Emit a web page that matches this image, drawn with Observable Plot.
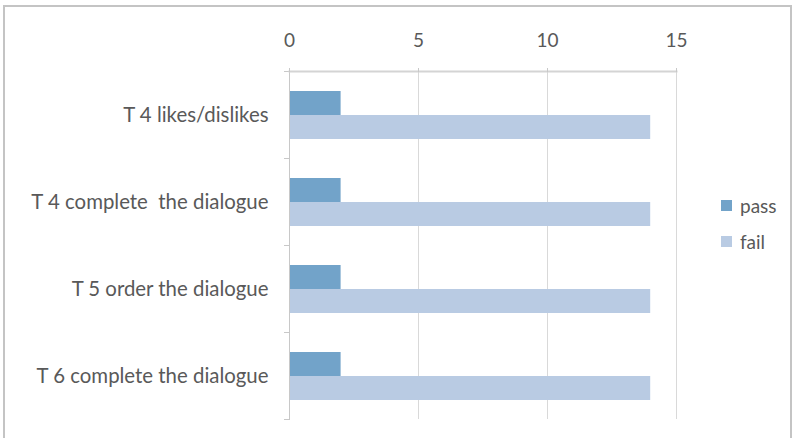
<!DOCTYPE html>
<html>
<head>
<meta charset="utf-8">
<script src="https://cdn.jsdelivr.net/npm/d3@7"></script>
<script src="https://cdn.jsdelivr.net/npm/@observablehq/plot@0.6"></script>
<style>
  html, body { margin: 0; padding: 0; background: #fff; }
  #wrap { position: relative; width: 796px; height: 438px; overflow: hidden; font-family: Lato, "Open Sans", sans-serif; }
  #border { position: absolute; left: 3px; top: 5px; width: 789px; height: 450px; border: 2px solid #c4c4c4; box-sizing: border-box; }
  #chart { position: absolute; left: 0; top: 0; }
  #chart svg text { white-space: pre; }
  #legend { position: absolute; left: 721px; top: 194px; color: #595959; font-size: 19px; }
  .item { display: flex; align-items: center; height: 22px; margin-bottom: 14.5px; }
  .sw { width: 11px; height: 11px; margin-right: 8px; }
</style>
</head>
<body>
<div id="wrap">
  <div id="border"></div>
  <div id="chart"></div>
  <div id="legend"></div>
</div>
<script>
const categories = ["T 4 likes/dislikes", "T 4 complete  the dialogue", "T 5 order the dialogue", "T 6 complete the dialogue"];
const series = ["pass", "fail"];
const passValues = [2, 2, 2, 2];
const failValues = [14, 14, 14, 14];
const xTicks = [0, 5, 10, 15];
const colors = ["#72a3c9", "#b9cbe3"];

const passRows = categories.map((c, i) => ({category: c, series: "pass", value: passValues[i]}));
const failRows = categories.map((c, i) => ({category: c, series: "fail", value: failValues[i]}));

const textColor = "#595959";
const lineColor = "#c8c8c8";

const chart = Plot.plot({
  width: 796,
  height: 438,
  marginLeft: 289,
  marginRight: 120,
  marginTop: 71,
  marginBottom: 19,
  style: {fontFamily: "Lato, 'Open Sans', sans-serif", fontSize: "19px", background: "transparent"},
  x: {domain: [0, 15], axis: null, label: null},
  y: {domain: categories, padding: 0, axis: null, label: null},
  marks: [
    Plot.gridX(xTicks, {stroke: "#d9d9d9", strokeOpacity: 1}),
    Plot.barX(passRows, {y: "category", x: "value", fill: colors[0], insetTop: 20, insetBottom: 43}),
    Plot.barX(failRows, {y: "category", x: "value", fill: colors[1], insetTop: 44, insetBottom: 19}),
    Plot.frame({anchor: "left", stroke: lineColor}),
    Plot.axisY({tickSize: 5, tickFormat: () => "", dy: -43.5, stroke: lineColor, label: null}),
    Plot.axisY({tickSize: 5, tickFormat: () => "", dy: 43.5, stroke: lineColor, label: null}),
    Plot.axisY({tickSize: 0, tickPadding: 21, fontSize: 20.4, fill: textColor, label: null}),
    Plot.frame({anchor: "top", stroke: "#d4d4d4", strokeWidth: 2}),
    Plot.axisX({anchor: "top", ticks: xTicks, tickSize: 4, tickPadding: 21, fontSize: 19, fill: textColor, stroke: lineColor, label: null})
  ]
});
document.getElementById("chart").appendChild(chart);

const legend = document.getElementById("legend");
series.forEach((s, i) => {
  const item = document.createElement("div");
  item.className = "item";
  const sw = document.createElement("span");
  sw.className = "sw";
  sw.style.background = colors[i];
  const t = document.createElement("span");
  t.textContent = s;
  item.appendChild(sw);
  item.appendChild(t);
  legend.appendChild(item);
});
</script>
</body>
</html>
